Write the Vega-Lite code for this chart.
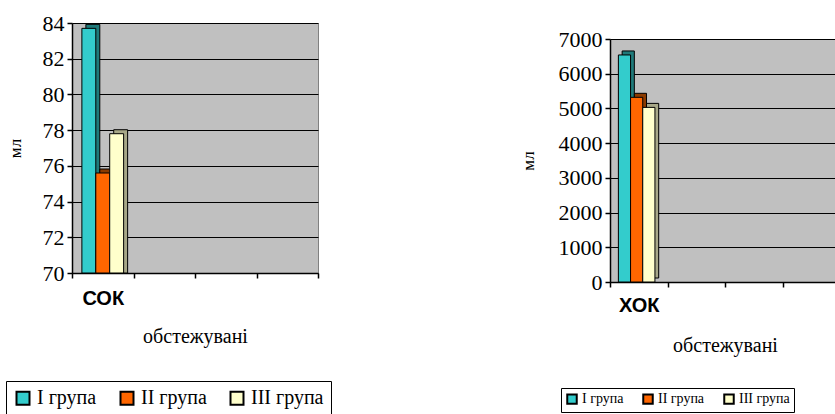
{
  "$schema": "https://vega.github.io/schema/vega-lite/v6.json",
  "background": "white",
  "padding": {"left": 5, "top": 11, "right": 0, "bottom": 50},
  "spacing": 186,
  "config": {
    "view": {"fill": "#c0c0c0", "stroke": "#808080", "strokeWidth": 1},
    "font": "Liberation Serif",
    "axis": {"labelFont": "Liberation Serif", "titleFont": "Liberation Serif"},
    "legend": {"labelFont": "Liberation Serif"}
  },
  "resolve": {
    "scale": {"x": "independent", "y": "independent", "color": "independent", "xOffset": "independent"},
    "legend": {"color": "independent"}
  },
  "hconcat": [
    {
      "width": 246,
      "height": 250,
      "data": {"values": [
        {"cat": "СОК", "group": "І група", "value": 83.7},
        {"cat": "СОК", "group": "ІІ група", "value": 75.6},
        {"cat": "СОК", "group": "ІІІ група", "value": 77.8}
      ]},
      "encoding": {
        "x": {"field": "cat", "type": "nominal",
          "scale": {"domain": ["СОК", "_1", "_2", "_3"], "paddingInner": 0, "paddingOuter": 0},
          "axis": {"title": "обстежувані", "titleFont": "Liberation Serif", "titleFontSize": 20, "titleFontWeight": "normal", "titleColor": "black", "titlePadding": 18,
            "labelFont": "Liberation Sans", "labelFontWeight": "bold", "labelFontSize": 20, "labelColor": "black", "labelAngle": 0, "labelPadding": 10,
            "labelExpr": "datum.value == 'СОК' ? 'СОК' : ''",
            "tickBand": "extent", "tickSize": 5, "tickColor": "black", "tickWidth": 1.5, "domainColor": "black", "domainWidth": 1.5, "grid": false}},
        "y": {"field": "value", "type": "quantitative",
          "scale": {"domain": [70, 84], "zero": false, "nice": false},
          "axis": {"title": "мл", "titleFont": "Liberation Serif", "titleFontSize": 17, "titleFontWeight": "normal", "titleColor": "black", "titlePadding": 18,
            "labelFont": "Liberation Serif", "labelFontSize": 22, "labelColor": "black", "labelPadding": 3,
            "values": [70, 72, 74, 76, 78, 80, 82, 84],
            "tickSize": 5, "tickColor": "black", "tickWidth": 1.5, "domainColor": "black", "domainWidth": 1.5,
            "grid": true, "gridColor": "black", "gridWidth": 1.2}},
        "y2": {"datum": 70}
      },
      "resolve": {"scale": {"xOffset": "independent", "color": "independent"}, "legend": {"color": "independent"}},
      "layer": [
        {
          "mark": {"type": "bar", "yOffset": -4, "stroke": "black", "strokeWidth": 1},
          "encoding": {
            "xOffset": {"field": "group", "type": "nominal",
              "scale": {"domain": ["І група", "ІІ група", "ІІІ група"], "paddingInner": 0, "paddingOuter": 0.71, "align": 0.703}},
            "color": {"field": "group", "type": "nominal",
              "scale": {"domain": ["І група", "ІІ група", "ІІІ група"], "range": ["#1f7a7a", "#8a3a00", "#a8a888"]},
              "legend": null}
          }
        },
        {
          "mark": {"type": "bar", "stroke": "black", "strokeWidth": 1},
          "encoding": {
            "xOffset": {"field": "group", "type": "nominal",
              "scale": {"domain": ["І група", "ІІ група", "ІІІ група"], "paddingInner": 0, "paddingOuter": 0.71}},
            "color": {"field": "group", "type": "nominal",
              "scale": {"domain": ["І група", "ІІ група", "ІІІ група"], "range": ["#33cccc", "#ff6600", "#ffffcc"]},
              "legend": {"orient": "none", "legendX": -66, "legendY": 358, "direction": "horizontal", "title": null,
                "strokeColor": "black", "fillColor": "white", "padding": 7,
                "symbolType": "square", "symbolSize": 169, "symbolStrokeColor": "black", "symbolStrokeWidth": 2, "symbolOpacity": 1,
                "labelFont": "Liberation Serif", "labelFontSize": 20, "labelColor": "black", "labelOffset": 4, "columnPadding": 19}}
          }
        }
      ]
    },
    {
      "spacing": 3,
      "vconcat": [
        {
          "width": 230,
          "height": 1,
          "view": {"fill": null, "stroke": null},
          "data": {"values": [{"a": 1}]},
          "mark": {"type": "rule", "opacity": 0},
          "encoding": {}
        },
        {
          "width": 230,
          "height": 243,
          "data": {"values": [
            {"cat": "ХОК", "group": "І група", "value": 6540},
            {"cat": "ХОК", "group": "ІІ група", "value": 5320},
            {"cat": "ХОК", "group": "ІІІ група", "value": 5030}
          ]},
          "encoding": {
            "x": {"field": "cat", "type": "nominal",
              "scale": {"domain": ["ХОК", "_1", "_2", "_3"], "paddingInner": 0, "paddingOuter": 0},
              "axis": {"title": "обстежувані", "titleFont": "Liberation Serif", "titleFontSize": 20, "titleFontWeight": "normal", "titleColor": "black", "titlePadding": 20,
                "labelFont": "Liberation Sans", "labelFontWeight": "bold", "labelFontSize": 20, "labelColor": "black", "labelAngle": 0, "labelPadding": 8,
                "labelExpr": "datum.value == 'ХОК' ? 'ХОК' : ''",
                "tickBand": "extent", "tickSize": 5, "tickColor": "black", "tickWidth": 1.5, "domainColor": "black", "domainWidth": 1.5, "grid": false}},
            "y": {"field": "value", "type": "quantitative",
              "scale": {"domain": [0, 7000], "nice": false},
              "axis": {"title": "мл", "titleFont": "Liberation Serif", "titleFontSize": 17, "titleFontWeight": "normal", "titleColor": "black", "titlePadding": 21,
                "labelFont": "Liberation Serif", "labelFontSize": 22, "labelColor": "black", "labelPadding": 3, "format": "d",
                "values": [0, 1000, 2000, 3000, 4000, 5000, 6000, 7000],
                "tickSize": 5, "tickColor": "black", "tickWidth": 1.5, "domainColor": "black", "domainWidth": 1.5,
                "grid": true, "gridColor": "black", "gridWidth": 1.2}}
          },
          "resolve": {"scale": {"xOffset": "independent", "color": "independent"}, "legend": {"color": "independent"}},
          "layer": [
            {
              "mark": {"type": "bar", "yOffset": -4, "stroke": "black", "strokeWidth": 1},
              "encoding": {
                "xOffset": {"field": "group", "type": "nominal",
                  "scale": {"domain": ["І група", "ІІ група", "ІІІ група"], "paddingInner": 0, "paddingOuter": 0.86, "align": 0.58}},
                "color": {"field": "group", "type": "nominal",
                  "scale": {"domain": ["І група", "ІІ група", "ІІІ група"], "range": ["#1f7a7a", "#8a3a00", "#a8a888"]},
                  "legend": null}
              }
            },
            {
              "mark": {"type": "bar", "stroke": "black", "strokeWidth": 1},
              "encoding": {
                "xOffset": {"field": "group", "type": "nominal",
                  "scale": {"domain": ["І група", "ІІ група", "ІІІ група"], "paddingInner": 0, "paddingOuter": 0.86, "align": 0.4}},
                "color": {"field": "group", "type": "nominal",
                  "scale": {"domain": ["І група", "ІІ група", "ІІІ група"], "range": ["#33cccc", "#ff6600", "#ffffcc"]},
                  "legend": {"orient": "none", "legendX": -49, "legendY": 349, "direction": "horizontal", "title": null,
                    "strokeColor": "black", "fillColor": "white", "padding": 4,
                    "symbolType": "square", "symbolSize": 90, "symbolStrokeColor": "black", "symbolStrokeWidth": 2, "symbolOpacity": 1,
                    "labelFont": "Liberation Serif", "labelFontSize": 14, "labelColor": "black", "labelOffset": 3, "columnPadding": 15}}
              }
            }
          ]
        }
      ]
    }
  ]
}
